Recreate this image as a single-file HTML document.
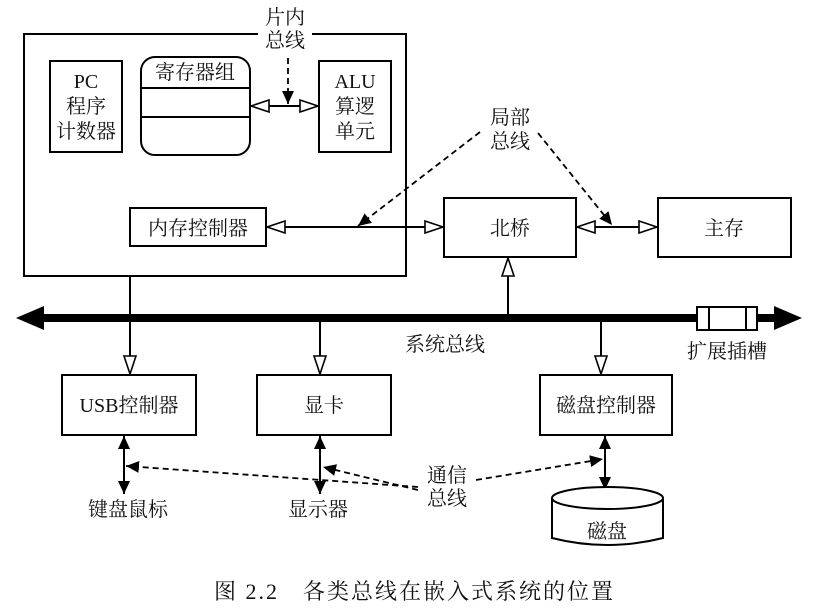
<!DOCTYPE html>
<html><head><meta charset="utf-8"><style>
html,body{margin:0;padding:0;background:#fff}
svg{display:block}
text{font-family:"Liberation Serif","Noto Serif CJK SC",serif;font-size:20px;fill:#111}
</style></head><body>
<svg width="817" height="616" viewBox="0 0 817 616" xmlns="http://www.w3.org/2000/svg">
<defs>
<marker id="open" markerWidth="20" markerHeight="16" refX="19" refY="8" orient="auto" markerUnits="userSpaceOnUse">
<path d="M1,2 L19,8 L1,14 Z" fill="#fff" stroke="#000" stroke-width="1.6"/></marker>
<marker id="solid" markerWidth="14" markerHeight="12" refX="13" refY="6" orient="auto" markerUnits="userSpaceOnUse">
<path d="M0,0 L13,6 L0,12 Z" fill="#000"/></marker>
</defs>
<g fill="none" stroke="#000" stroke-width="2">
<path d="M258,34 L24,34 L24,276 L406,276 L406,34 L312,34"/>
<rect x="50" y="61" width="72" height="91"/>
<rect x="141" y="57" width="109" height="98" rx="14"/>
<line x1="141" y1="88" x2="250" y2="88"/>
<line x1="141" y1="117" x2="250" y2="117"/>
<rect x="319" y="61" width="72" height="91"/>
<rect x="130" y="208" width="136" height="38"/>
<rect x="444" y="198" width="132" height="59"/>
<rect x="658" y="198" width="133" height="59"/>
<rect x="62" y="375" width="134" height="60"/>
<rect x="257" y="375" width="134" height="60"/>
<rect x="540" y="375" width="132" height="60"/>
</g>
<g stroke="#000" stroke-width="2" fill="none">
<line x1="288" y1="106" x2="251" y2="106" marker-end="url(#open)"/>
<line x1="288" y1="106" x2="318" y2="106" marker-end="url(#open)"/>
<line x1="360" y1="227" x2="267" y2="227" marker-end="url(#open)"/>
<line x1="360" y1="227" x2="443" y2="227" marker-end="url(#open)"/>
<line x1="614" y1="227" x2="577" y2="227" marker-end="url(#open)"/>
<line x1="614" y1="227" x2="657" y2="227" marker-end="url(#open)"/>
<line x1="508" y1="318" x2="508" y2="258" marker-end="url(#open)"/>
<line x1="130" y1="276" x2="130" y2="374" marker-end="url(#open)"/>
<line x1="320" y1="318" x2="320" y2="374" marker-end="url(#open)"/>
<line x1="601" y1="318" x2="601" y2="374" marker-end="url(#open)"/>
<line x1="124" y1="465" x2="124" y2="436" marker-end="url(#solid)"/>
<line x1="124" y1="465" x2="124" y2="494" marker-end="url(#solid)"/>
<line x1="320" y1="465" x2="320" y2="436" marker-end="url(#solid)"/>
<line x1="320" y1="465" x2="320" y2="494" marker-end="url(#solid)"/>
<line x1="605" y1="465" x2="605" y2="436" marker-end="url(#solid)"/>
<line x1="605" y1="465" x2="605" y2="490" marker-end="url(#solid)"/>
</g>
<g stroke="#000" stroke-width="1.8" fill="none" stroke-dasharray="6,4">
<line x1="288" y1="58" x2="288" y2="104" marker-end="url(#solid)"/>
<line x1="480" y1="132" x2="358" y2="226" marker-end="url(#solid)"/>
<line x1="538" y1="133" x2="612" y2="225" marker-end="url(#solid)"/>
<line x1="418" y1="487" x2="126" y2="466" marker-end="url(#solid)"/>
<line x1="418" y1="490" x2="323" y2="467" marker-end="url(#solid)"/>
<line x1="476" y1="480" x2="603" y2="459" marker-end="url(#solid)"/>
</g>
<rect x="34" y="314" width="752" height="8" fill="#000"/>
<path d="M16,318 L44,306 L44,330 Z" fill="#000"/>
<path d="M802,318 L774,306 L774,330 Z" fill="#000"/>
<rect x="697" y="307" width="60" height="23" fill="#fff" stroke="#000" stroke-width="2"/>
<line x1="709" y1="307" x2="709" y2="330" stroke="#000" stroke-width="2"/>
<line x1="746" y1="307" x2="746" y2="330" stroke="#000" stroke-width="2"/>
<path d="M552,498 L552,538 Q607,552 663,538 L663,498" fill="#fff" stroke="#000" stroke-width="2"/>
<ellipse cx="607.5" cy="498" rx="55.5" ry="11" fill="#fff" stroke="#000" stroke-width="2"/>
<g text-anchor="middle">
<text x="285" y="24">片内</text>
<text x="285" y="47">总线</text>
<text x="86" y="88">PC</text>
<text x="86" y="113">程序</text>
<text x="86" y="138">计数器</text>
<text x="195" y="79">寄存器组</text>
<text x="355" y="88">ALU</text>
<text x="355" y="113">算逻</text>
<text x="355" y="138">单元</text>
<text x="510" y="124">局部</text>
<text x="510" y="148">总线</text>
<text x="198" y="235">内存控制器</text>
<text x="510" y="235">北桥</text>
<text x="724" y="235">主存</text>
<text x="445" y="351">系统总线</text>
<text x="727" y="358">扩展插槽</text>
<text x="129" y="412">USB控制器</text>
<text x="324" y="412">显卡</text>
<text x="606" y="412">磁盘控制器</text>
<text x="447" y="482">通信</text>
<text x="447" y="505">总线</text>
<text x="128" y="516">键盘鼠标</text>
<text x="318" y="516">显示器</text>
<text x="607" y="538">磁盘</text>
</g>
<text x="214" y="599" style="font-size:22px;letter-spacing:2px">图 2.2　各类总线在嵌入式系统的位置</text>
</svg>
</body></html>
